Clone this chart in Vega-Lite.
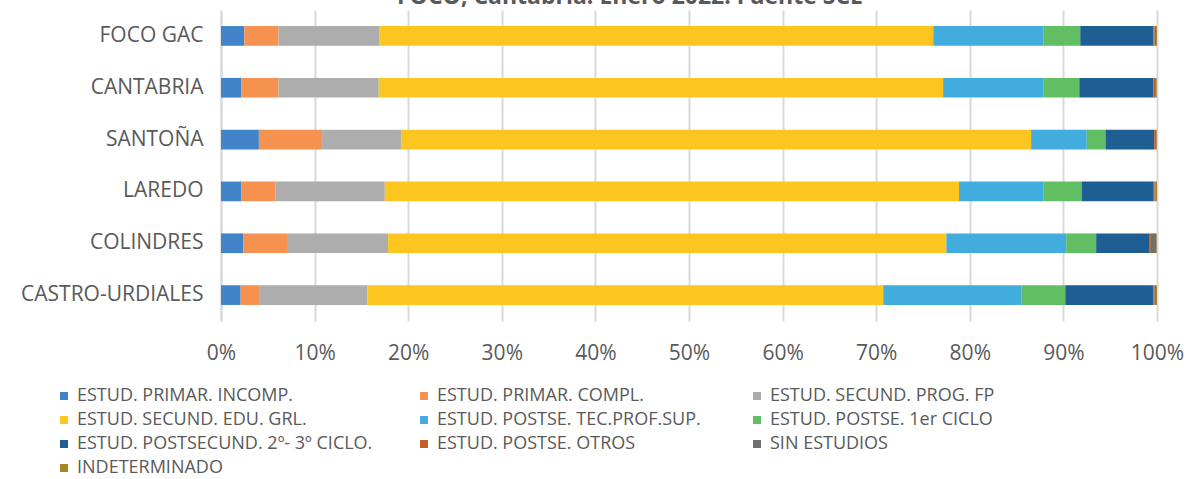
{
  "$schema": "https://vega.github.io/schema/vega-lite/v6.json",
  "width": 936,
  "height": 311,
  "autosize": {"type": "none"},
  "padding": {"left": 221, "top": 10, "right": 29, "bottom": 158},
  "background": "white",
  "title": {
    "text": "FOCO, Cantabria. Enero 2022. Fuente SCE",
    "fontSize": 23,
    "fontWeight": "bold",
    "font": "Open Sans",
    "color": "#595959",
    "anchor": "middle",
    "baseline": "alphabetic",
    "offset": 0,
    "dx": -59,
    "dy": 17
  },
  "config": {
    "view": {"stroke": null},
    "font": "Open Sans"
  },
  "data": {
    "values": [
      {"g": "FOCO GAC", "s": "ESTUD. PRIMAR. INCOMP.", "o": 1, "v": 2.5},
      {"g": "FOCO GAC", "s": "ESTUD. PRIMAR. COMPL.", "o": 2, "v": 3.65},
      {"g": "FOCO GAC", "s": "ESTUD. SECUND. PROG. FP", "o": 3, "v": 10.8},
      {"g": "FOCO GAC", "s": "ESTUD. SECUND. EDU. GRL.", "o": 4, "v": 59.15},
      {"g": "FOCO GAC", "s": "ESTUD.  POSTSE. TEC.PROF.SUP.", "o": 5, "v": 11.8},
      {"g": "FOCO GAC", "s": "ESTUD. POSTSE.  1er  CICLO", "o": 6, "v": 3.9},
      {"g": "FOCO GAC", "s": "ESTUD. POSTSECUND. 2º- 3º CICLO.", "o": 7, "v": 7.8},
      {"g": "FOCO GAC", "s": "ESTUD. POSTSE. OTROS", "o": 8, "v": 0.15},
      {"g": "FOCO GAC", "s": "SIN ESTUDIOS", "o": 9, "v": 0.15},
      {"g": "FOCO GAC", "s": "INDETERMINADO", "o": 10, "v": 0.1},

      {"g": "CANTABRIA", "s": "ESTUD. PRIMAR. INCOMP.", "o": 1, "v": 2.15},
      {"g": "CANTABRIA", "s": "ESTUD. PRIMAR. COMPL.", "o": 2, "v": 4.0},
      {"g": "CANTABRIA", "s": "ESTUD. SECUND. PROG. FP", "o": 3, "v": 10.7},
      {"g": "CANTABRIA", "s": "ESTUD. SECUND. EDU. GRL.", "o": 4, "v": 60.3},
      {"g": "CANTABRIA", "s": "ESTUD.  POSTSE. TEC.PROF.SUP.", "o": 5, "v": 10.75},
      {"g": "CANTABRIA", "s": "ESTUD. POSTSE.  1er  CICLO", "o": 6, "v": 3.8},
      {"g": "CANTABRIA", "s": "ESTUD. POSTSECUND. 2º- 3º CICLO.", "o": 7, "v": 7.9},
      {"g": "CANTABRIA", "s": "ESTUD. POSTSE. OTROS", "o": 8, "v": 0.2},
      {"g": "CANTABRIA", "s": "SIN ESTUDIOS", "o": 9, "v": 0.15},
      {"g": "CANTABRIA", "s": "INDETERMINADO", "o": 10, "v": 0.05},

      {"g": "SANTOÑA", "s": "ESTUD. PRIMAR. INCOMP.", "o": 1, "v": 4.05},
      {"g": "SANTOÑA", "s": "ESTUD. PRIMAR. COMPL.", "o": 2, "v": 6.75},
      {"g": "SANTOÑA", "s": "ESTUD. SECUND. PROG. FP", "o": 3, "v": 8.5},
      {"g": "SANTOÑA", "s": "ESTUD. SECUND. EDU. GRL.", "o": 4, "v": 67.25},
      {"g": "SANTOÑA", "s": "ESTUD.  POSTSE. TEC.PROF.SUP.", "o": 5, "v": 5.95},
      {"g": "SANTOÑA", "s": "ESTUD. POSTSE.  1er  CICLO", "o": 6, "v": 2.0},
      {"g": "SANTOÑA", "s": "ESTUD. POSTSECUND. 2º- 3º CICLO.", "o": 7, "v": 5.2},
      {"g": "SANTOÑA", "s": "ESTUD. POSTSE. OTROS", "o": 8, "v": 0.25},
      {"g": "SANTOÑA", "s": "SIN ESTUDIOS", "o": 9, "v": 0.03},
      {"g": "SANTOÑA", "s": "INDETERMINADO", "o": 10, "v": 0.02},

      {"g": "LAREDO", "s": "ESTUD. PRIMAR. INCOMP.", "o": 1, "v": 2.15},
      {"g": "LAREDO", "s": "ESTUD. PRIMAR. COMPL.", "o": 2, "v": 3.7},
      {"g": "LAREDO", "s": "ESTUD. SECUND. PROG. FP", "o": 3, "v": 11.65},
      {"g": "LAREDO", "s": "ESTUD. SECUND. EDU. GRL.", "o": 4, "v": 61.35},
      {"g": "LAREDO", "s": "ESTUD.  POSTSE. TEC.PROF.SUP.", "o": 5, "v": 9.05},
      {"g": "LAREDO", "s": "ESTUD. POSTSE.  1er  CICLO", "o": 6, "v": 4.05},
      {"g": "LAREDO", "s": "ESTUD. POSTSECUND. 2º- 3º CICLO.", "o": 7, "v": 7.7},
      {"g": "LAREDO", "s": "ESTUD. POSTSE. OTROS", "o": 8, "v": 0.1},
      {"g": "LAREDO", "s": "SIN ESTUDIOS", "o": 9, "v": 0.05},
      {"g": "LAREDO", "s": "INDETERMINADO", "o": 10, "v": 0.2},

      {"g": "COLINDRES", "s": "ESTUD. PRIMAR. INCOMP.", "o": 1, "v": 2.4},
      {"g": "COLINDRES", "s": "ESTUD. PRIMAR. COMPL.", "o": 2, "v": 4.75},
      {"g": "COLINDRES", "s": "ESTUD. SECUND. PROG. FP", "o": 3, "v": 10.7},
      {"g": "COLINDRES", "s": "ESTUD. SECUND. EDU. GRL.", "o": 4, "v": 59.65},
      {"g": "COLINDRES", "s": "ESTUD.  POSTSE. TEC.PROF.SUP.", "o": 5, "v": 12.8},
      {"g": "COLINDRES", "s": "ESTUD. POSTSE.  1er  CICLO", "o": 6, "v": 3.2},
      {"g": "COLINDRES", "s": "ESTUD. POSTSECUND. 2º- 3º CICLO.", "o": 7, "v": 5.65},
      {"g": "COLINDRES", "s": "ESTUD. POSTSE. OTROS", "o": 8, "v": 0.2},
      {"g": "COLINDRES", "s": "SIN ESTUDIOS", "o": 9, "v": 0.6},
      {"g": "COLINDRES", "s": "INDETERMINADO", "o": 10, "v": 0.05},

      {"g": "CASTRO-URDIALES", "s": "ESTUD. PRIMAR. INCOMP.", "o": 1, "v": 2.1},
      {"g": "CASTRO-URDIALES", "s": "ESTUD. PRIMAR. COMPL.", "o": 2, "v": 2.05},
      {"g": "CASTRO-URDIALES", "s": "ESTUD. SECUND. PROG. FP", "o": 3, "v": 11.5},
      {"g": "CASTRO-URDIALES", "s": "ESTUD. SECUND. EDU. GRL.", "o": 4, "v": 55.1},
      {"g": "CASTRO-URDIALES", "s": "ESTUD.  POSTSE. TEC.PROF.SUP.", "o": 5, "v": 14.8},
      {"g": "CASTRO-URDIALES", "s": "ESTUD. POSTSE.  1er  CICLO", "o": 6, "v": 4.65},
      {"g": "CASTRO-URDIALES", "s": "ESTUD. POSTSECUND. 2º- 3º CICLO.", "o": 7, "v": 9.4},
      {"g": "CASTRO-URDIALES", "s": "ESTUD. POSTSE. OTROS", "o": 8, "v": 0.15},
      {"g": "CASTRO-URDIALES", "s": "SIN ESTUDIOS", "o": 9, "v": 0.15},
      {"g": "CASTRO-URDIALES", "s": "INDETERMINADO", "o": 10, "v": 0.1}
    ]
  },
  "mark": {"type": "bar"},
  "encoding": {
    "y": {
      "field": "g",
      "type": "nominal",
      "sort": ["FOCO GAC", "CANTABRIA", "SANTOÑA", "LAREDO", "COLINDRES", "CASTRO-URDIALES"],
      "scale": {"paddingInner": 0.62, "paddingOuter": 0.31},
      "axis": {
        "title": null,
        "ticks": false,
        "domain": true,
        "domainColor": "#D9D9D9",
        "domainWidth": 2,
        "labelFontSize": 21,
        "labelColor": "#595959",
        "labelPadding": 18,
        "labelFont": "Open Sans",
        "labelLimit": 400
      }
    },
    "x": {
      "field": "v",
      "type": "quantitative",
      "stack": "normalize",
      "scale": {"domain": [0, 1], "nice": false},
      "axis": {
        "title": null,
        "values": [0, 0.1, 0.2, 0.3, 0.4, 0.5, 0.6, 0.7, 0.8, 0.9, 1],
        "format": ".0%",
        "grid": true,
        "gridColor": "#D9D9D9",
        "gridWidth": 2,
        "domain": false,
        "ticks": false,
        "labelFontSize": 21,
        "labelColor": "#595959",
        "labelPadding": 21,
        "labelFont": "Open Sans",
        "labelFlush": false
      }
    },
    "color": {
      "field": "s",
      "type": "nominal",
      "scale": {
        "domain": [
          "ESTUD. PRIMAR. INCOMP.",
          "ESTUD. PRIMAR. COMPL.",
          "ESTUD. SECUND. PROG. FP",
          "ESTUD. SECUND. EDU. GRL.",
          "ESTUD.  POSTSE. TEC.PROF.SUP.",
          "ESTUD. POSTSE.  1er  CICLO",
          "ESTUD. POSTSECUND. 2º- 3º CICLO.",
          "ESTUD. POSTSE. OTROS",
          "SIN ESTUDIOS",
          "INDETERMINADO"
        ],
        "range": ["#4185C8", "#F69250", "#ADADAD", "#FDC520", "#41ACDD", "#62BE62", "#1F5E92", "#C45C26", "#707070", "#AA8420"]
      },
      "legend": {
        "title": null,
        "orient": "none",
        "legendX": -166,
        "legendY": 377,
        "direction": "horizontal",
        "columns": 3,
        "gridAlign": "each",
        "columnPadding": 42,
        "rowPadding": 6,
        "symbolType": "square",
        "symbolSize": 64,
        "symbolStrokeWidth": 0,
        "symbolOffset": 0,
        "labelOffset": 4,
        "labelFontSize": 18,
        "labelColor": "#595959",
        "labelFont": "Open Sans",
        "labelLimit": 500
      }
    },
    "order": {"field": "o", "type": "quantitative"}
  }
}
